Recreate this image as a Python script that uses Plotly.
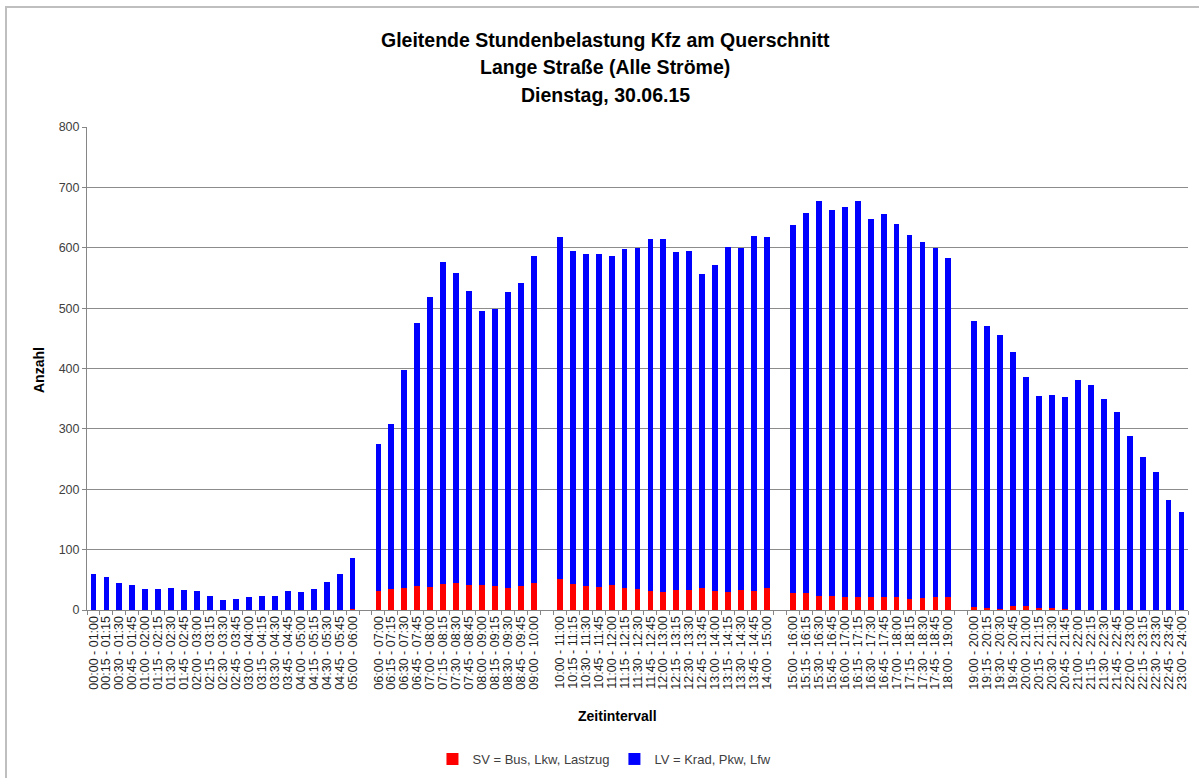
import plotly.graph_objects as go

# ---- data (five blocks separated by gaps on the axis) ----
labels_1 = ["00:00 - 01:00", "00:15 - 01:15", "00:30 - 01:30", "00:45 - 01:45", "01:00 - 02:00",
            "01:15 - 02:15", "01:30 - 02:30", "01:45 - 02:45", "02:00 - 03:00", "02:15 - 03:15",
            "02:30 - 03:30", "02:45 - 03:45", "03:00 - 04:00", "03:15 - 04:15", "03:30 - 04:30",
            "03:45 - 04:45", "04:00 - 05:00", "04:15 - 05:15", "04:30 - 05:30", "04:45 - 05:45",
            "05:00 - 06:00"]
sv_1 = [0, 0, 0, 0, 0, 0, 0, 0, 0, 0, 0, 0, 0, 0, 0, 0, 0, 0, 0, 0, 1]
lv_1 = [60, 54, 45, 41, 34, 34, 37, 33, 32, 24, 17, 19, 21, 23, 24, 31, 29, 34, 47, 60, 85]

labels_2 = ["06:00 - 07:00", "06:15 - 07:15", "06:30 - 07:30", "06:45 - 07:45", "07:00 - 08:00",
            "07:15 - 08:15", "07:30 - 08:30", "07:45 - 08:45", "08:00 - 09:00", "08:15 - 09:15",
            "08:30 - 09:30", "08:45 - 09:45", "09:00 - 10:00"]
sv_2 = [31, 34, 37, 40, 38, 43, 44, 41, 41, 39, 37, 40, 45]
lv_2 = [244, 274, 361, 435, 481, 534, 515, 487, 455, 460, 490, 501, 542]

labels_3 = ["10:00 - 11:00", "10:15 - 11:15", "10:30 - 11:30", "10:45 - 11:45", "11:00 - 12:00",
            "11:15 - 12:15", "11:30 - 12:30", "11:45 - 12:45", "12:00 - 13:00", "12:15 - 13:15",
            "12:30 - 13:30", "12:45 - 13:45", "13:00 - 14:00", "13:15 - 14:15", "13:30 - 14:30",
            "13:45 - 14:45", "14:00 - 15:00"]
sv_3 = [52, 43, 39, 38, 41, 36, 35, 31, 30, 33, 33, 36, 31, 29, 33, 31, 36]
lv_3 = [566, 552, 550, 551, 545, 562, 565, 583, 584, 560, 561, 521, 540, 573, 566, 589, 582]

labels_4 = ["15:00 - 16:00", "15:15 - 16:15", "15:30 - 16:30", "15:45 - 16:45", "16:00 - 17:00",
            "16:15 - 17:15", "16:30 - 17:30", "16:45 - 17:45", "17:00 - 18:00", "17:15 - 18:15",
            "17:30 - 18:30", "17:45 - 18:45", "18:00 - 19:00"]
sv_4 = [28, 28, 24, 24, 22, 21, 22, 21, 21, 19, 20, 22, 21]
lv_4 = [609, 629, 653, 639, 646, 656, 625, 635, 619, 602, 589, 578, 562]

labels_5 = ["19:00 - 20:00", "19:15 - 20:15", "19:30 - 20:30", "19:45 - 20:45", "20:00 - 21:00",
            "20:15 - 21:15", "20:30 - 21:30", "20:45 - 21:45", "21:00 - 22:00", "21:15 - 22:15",
            "21:30 - 22:30", "21:45 - 22:45", "22:00 - 23:00", "22:15 - 23:15", "22:30 - 23:30",
            "22:45 - 23:45", "23:00 - 24:00"]
sv_5 = [5, 4, 2, 6, 6, 4, 4, 1, 0, 0, 0, 0, 0, 0, 0, 0, 0]
lv_5 = [474, 467, 453, 422, 380, 351, 352, 352, 381, 372, 349, 328, 289, 253, 229, 183, 162]

blocks = [(labels_1, sv_1, lv_1), (labels_2, sv_2, lv_2), (labels_3, sv_3, lv_3),
          (labels_4, sv_4, lv_4), (labels_5, sv_5, lv_5)]

# positions: one empty slot between blocks
xs, labels, sv, lv = [], [], [], []
pos = 0
for b, (lab, s, l) in enumerate(blocks):
    if b > 0:
        pos += 1
    for i in range(len(lab)):
        xs.append(pos)
        labels.append(lab[i])
        sv.append(s[i])
        lv.append(l[i])
        pos += 1
n_slots = pos

FONT = "Liberation Sans, Arial, sans-serif"

fig = go.Figure()
fig.add_trace(go.Bar(x=xs, y=sv, name="SV = Bus, Lkw, Lastzug",
                     marker=dict(color="#FF0000", line=dict(width=0)), width=0.45))
fig.add_trace(go.Bar(x=xs, y=lv, name="LV = Krad, Pkw, Lfw",
                     marker=dict(color="#0000FF", line=dict(width=0)), width=0.45))

L, R, T, B = 87, 11, 127, 168
W, H = 1199, 778
pw, ph = W - L - R, H - T - B

def px_x(x):
    return (x - L) / pw

def px_y(y):
    return (H - B - y) / ph

fig.update_layout(
    barmode="stack",
    width=W, height=H,
    margin=dict(l=L, r=R, t=T, b=B, autoexpand=False),
    paper_bgcolor="white", plot_bgcolor="white",
    font=dict(family=FONT, color="#404040", size=12),
    showlegend=True,
    legend=dict(orientation="h", x=0.47, xanchor="center", y=px_y(759), yanchor="middle",
                font=dict(size=13, color="#404040"), traceorder="normal"),
    xaxis=dict(range=[-0.5, n_slots - 0.5], tickmode="array", tickvals=xs, ticktext=labels,
               tickangle=-90, tickfont=dict(size=12.5, color="#202020"), ticks="",
               showgrid=False, showline=True, linecolor="#868686", linewidth=1,
               minor=dict(ticks="outside", tick0=-0.5, dtick=1, ticklen=4,
                          tickcolor="#868686", showgrid=False),
               zeroline=False),
    yaxis=dict(range=[0, 800], dtick=100, showgrid=True, gridcolor="#8c8c8c", gridwidth=1,
               showline=True, linecolor="#868686", linewidth=1, ticks="outside", ticklen=4,
               tickcolor="#868686", tickfont=dict(size=12.5, color="#404040"), zeroline=False),
    bargap=0,
)

titles = [("Gleitende Stundenbelastung Kfz am Querschnitt", 40),
          ("Lange Straße (Alle Ströme)", 67),
          ("Dienstag, 30.06.15", 95)]
for txt, ypx in titles:
    fig.add_annotation(text="<b>" + txt + "</b>", xref="paper", yref="paper",
                       x=px_x(605), y=px_y(ypx), xanchor="center", yanchor="middle",
                       showarrow=False, font=dict(size=19.5, color="#000000", family=FONT))

fig.add_annotation(text="<b>Zeitintervall</b>", xref="paper", yref="paper",
                   x=px_x(617), y=px_y(716), xanchor="center", yanchor="middle",
                   showarrow=False, font=dict(size=14, color="#000000", family=FONT))
fig.add_annotation(text="<b>Anzahl</b>", xref="paper", yref="paper",
                   x=px_x(39), y=px_y(370), xanchor="center", yanchor="middle", textangle=-90,
                   showarrow=False, font=dict(size=14, color="#000000", family=FONT))

# outer chart frame
fig.add_shape(type="rect", xref="paper", yref="paper",
              x0=px_x(6), x1=px_x(1205), y0=px_y(790), y1=px_y(7),
              line=dict(color="#BFBFBF", width=2), layer="below")

fig.write_html("out.html", config={"displayModeBar": False},
               post_script="document.body.style.margin='0';document.body.style.overflow='hidden';")
